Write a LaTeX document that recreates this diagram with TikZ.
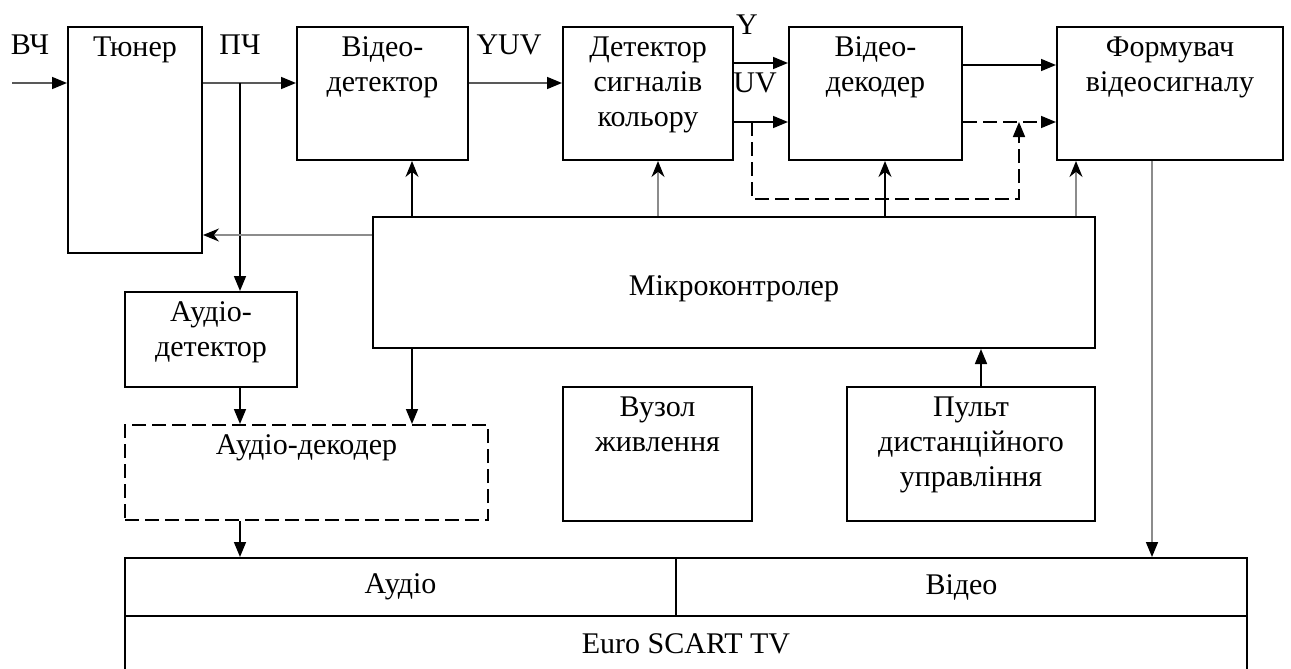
\documentclass[tikz,border=0pt]{standalone}
\usepackage{fontspec}
\setmainfont{Liberation Serif}
\usetikzlibrary{positioning,arrows.meta,calc}

\tikzset{
  blk/.style={draw, line width=1pt, inner sep=0pt},
  dblk/.style={blk, dash pattern=on 7pt off 3pt},
  lbl/.style={anchor=north, align=center, inner sep=5pt},
  arr/.style={line width=0.8pt, -{Triangle[length=7.5pt,width=6pt,color=black]}},
  uarr/.style={line width=0.8pt, -{Stealth[length=8pt,width=6.5pt,color=black]}},
  gry/.style={draw=black!45},
  dgry/.style={draw=black!65},
  dsh/.style={dash pattern=on 7pt off 3pt},
}

\begin{document}
\begin{tikzpicture}[x=0.5pt, y=-0.5pt, font=\fontsize{15}{17.5}\selectfont]
\useasboundingbox (0,0) rectangle (1291,669);
\clip (0,0) rectangle (1291,669);
% top row
\node[blk, minimum width=67pt, minimum height=113pt, label={[lbl]north:Тюнер}] (tuner) at (135,140) {};
\node[blk, minimum width=85.5pt, minimum height=66.5pt, label={[lbl]north:Відео-\\детектор}] (vdet) at (382.5,93.5) {};
\node[blk, minimum width=85pt, minimum height=66.5pt, label={[lbl]north:Детектор\\сигналів\\кольору}] (cdet) at (648,93.5) {};
\node[blk, minimum width=86.5pt, minimum height=66.5pt, label={[lbl]north:Відео-\\декодер}] (vdec) at (875.5,93.5) {};
\node[blk, minimum width=113pt, minimum height=66.5pt, label={[lbl]north:Формувач\\відеосигналу}] (form) at (1170,93.5) {};
% middle
\node[blk, minimum width=361pt, minimum height=65.5pt, label={[yshift=-3pt]center:Мікроконтролер}] (mcu) at (734,282.5) {};
\node[blk, minimum width=86pt, minimum height=47.5pt, label={[lbl]north:Аудіо-\\детектор}] (adet) at (211,339.5) {};
\node[dblk, minimum width=181.5pt, minimum height=47.5pt, label={[lbl]north:Аудіо-декодер}] (adec) at (306.5,472.5) {};
\node[blk, minimum width=94.5pt, minimum height=67pt, label={[lbl]north:Вузол\\живлення}] (power) at (657.5,454) {};
\node[blk, minimum width=124pt, minimum height=67pt, label={[lbl]north:Пульт\\дистанційного\\управління}] (remote) at (971,454) {};
% Euro SCART
\node[blk, minimum width=275.5pt, minimum height=29pt] (acell) at (400.5,587) {Аудіо};
\node[blk, minimum width=285.5pt, minimum height=29pt] (vcell) at (961.5,587) {Відео};
\node[blk, minimum width=561pt, minimum height=52pt, label={[lbl, inner sep=9pt]north:Euro SCART TV}] (scart) at (686,668) {};

% signal names
\node (vch) at (30,45) {ВЧ};
\node (pch) at (240,45) {ПЧ};
\node (yuv) at (509,45) {YUV};
\node (ysig) at (747,25) {Y};
\node (uvsig) at (755,83) {UV};

% helper points
\coordinate (rfin) at (12,83);
\coordinate (ifb) at (240,83);
\coordinate (yrow) at (0,63);
\coordinate (vrow) at (0,65);
\coordinate (uvb) at (752,122);
\coordinate (dj) at (1019,122);
\coordinate (dlo) at (1019,199);
\coordinate (trow) at (0,235);
\coordinate (k1) at (412,0);
\coordinate (k2) at (658,0);
\coordinate (k3) at (885,0);
\coordinate (k4) at (1076,0);
\coordinate (k5) at (1152,0);
\coordinate (k6) at (981,0);

% signal path
\draw[arr, dgry] (rfin) -- (rfin -| tuner.west);
\draw[arr, dgry] (tuner.east |- ifb) -- (vdet.west |- ifb);
\draw[arr] (ifb) -- (ifb |- adet.north);
\draw[arr, dgry] (vdet.east |- ifb) -- (cdet.west |- ifb);
\draw[arr] (cdet.east |- yrow) -- (vdec.west |- yrow);
\draw[arr] (cdet.east |- uvb) -- (vdec.west |- uvb);
\draw[arr] (vdec.east |- vrow) -- (form.west |- vrow);
\draw[arr, dsh] (vdec.east |- dj) -- (form.west |- dj);
\draw[arr, dsh] (uvb) |- (dlo) -- (dj);
\draw[arr] (ifb |- adet.south) -- (ifb |- adec.north);
\draw[arr] (ifb |- adec.south) -- (ifb |- acell.north);
\draw[arr, gry] (k5 |- form.south) -- (k5 |- vcell.north);

% control lines
\draw[uarr] (k1 |- mcu.north) -- (k1 |- vdet.south);
\draw[uarr, gry] (k2 |- mcu.north) -- (k2 |- cdet.south);
\draw[uarr] (k3 |- mcu.north) -- (k3 |- vdec.south);
\draw[uarr, gry] (k4 |- mcu.north) -- (k4 |- form.south);
\draw[uarr, gry] (mcu.west |- trow) -- (tuner.east |- trow);
\draw[arr] (k1 |- mcu.south) -- (k1 |- adec.north);
\draw[arr] (k6 |- remote.north) -- (k6 |- mcu.south);
\end{tikzpicture}
\end{document}
